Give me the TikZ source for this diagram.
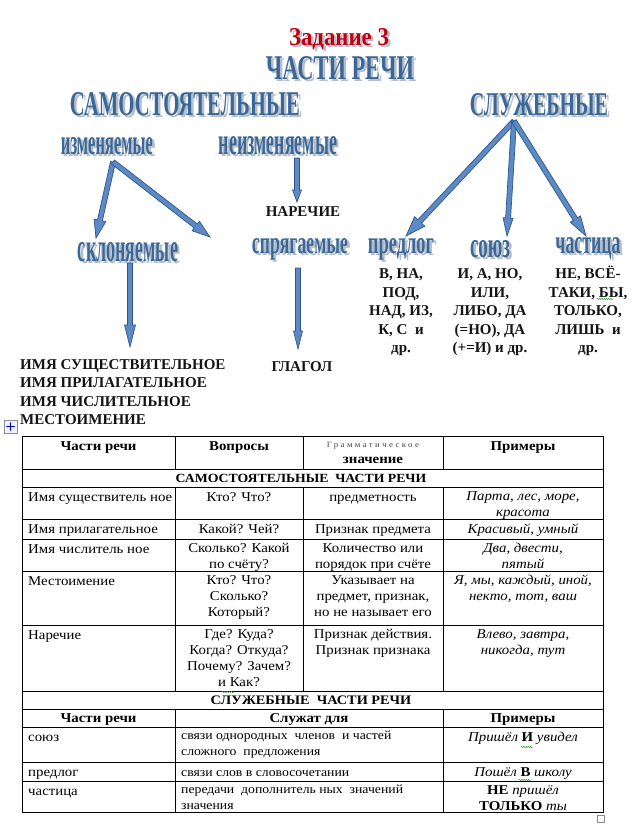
\documentclass[tikz,border=0pt]{standalone}
\usepackage{fontspec}
\usepackage{graphicx}
\setmainfont{Liberation Serif}
\newfontfamily\tabfont{Liberation Serif}[FakeStretch=1.1]
\usetikzlibrary{arrows.meta, positioning, calc, decorations.pathmorphing}
\definecolor{waBlue}{HTML}{3B6796}
\definecolor{waShade}{HTML}{B4BECC}
\definecolor{waRed}{HTML}{C00010}
\definecolor{arrFill}{HTML}{5B8AC4}
\definecolor{arrEdge}{HTML}{2F558C}
\definecolor{ink}{HTML}{141414}
\definecolor{squig}{HTML}{3C9A3C}
\tikzset{
  wa/.style={inner sep=0pt, anchor=base, text=waBlue, font=\bfseries},
  blockarr/.style={fill=arrFill, draw=arrEdge, line width=0.7pt, line join=miter},
  big/.style={inner sep=0pt, font=\bfseries\fontsize{15}{18.5}\selectfont, align=center, text=ink},
  cell/.style={inner sep=0pt, anchor=north, align=center, font=\tabfont\fontsize{13.5}{16}\selectfont,
               execute at begin node={\rule{0pt}{10pt}}},
  lcell/.style={cell, anchor=north west, align=left},
  ucell/.style={lcell, font=\tabfont\fontsize{12.5}{16}\selectfont},
  icell/.style={cell, font=\tabfont\itshape\fontsize{13.5}{16}\selectfont},
  hcell/.style={cell, font=\tabfont\bfseries\fontsize{13.5}{16}\selectfont},
  rowtitle/.style={cell, font=\tabfont\bfseries\fontsize{12.5}{16}\selectfont},
  grid/.style={line width=1pt, draw=black},
  squiggle/.style={draw=squig, line width=0.5pt, decorate, decoration={snake, amplitude=0.7pt, segment length=2.2pt}},
}
% wordart text with a soft shadow: [colour]{name}{base point}{width}{height}{text}
\newcommand\wordart[6][waBlue]{%
  \node[wa, text=#1] (#2) at (#3)
    {\rlap{\raisebox{-2.5pt}{\hspace*{2.5pt}\textcolor{waShade}{\resizebox{#4pt}{#5pt}{#6}}}}\resizebox{#4pt}{#5pt}{#6}};}
% block arrow: {from}{to}{head length}{head half width}
\newcommand\blockarrow[4]{%
  \coordinate (hb) at ($(#2)!#3pt!(#1)$);
  \filldraw[blockarr] ($(#1)!2.5pt!90:(#2)$) -- ($(hb)!2.5pt!90:(#2)$) -- ($(hb)!#4pt!90:(#2)$) -- (#2)
    -- ($(hb)!#4pt!-90:(#2)$) -- ($(hb)!2.5pt!-90:(#2)$) -- ($(#1)!2.5pt!-90:(#2)$) -- cycle;}

\begin{document}
\begin{tikzpicture}[x=1pt, y=-1pt]
\path[fill=white, use as bounding box] (0,0) rectangle (638,831);

% headings
\wordart[waRed]{task}{339,45}{100}{17}{Задание 3}
\wordart{parts}{340,79}{148}{23}{ЧАСТИ РЕЧИ}
\wordart{indep}{185,115}{230}{23}{САМОСТОЯТЕЛЬНЫЕ}
\wordart{func}{539,115}{138}{22}{СЛУЖЕБНЫЕ}
\wordart{izm}{107,154}{92}{17}{изменяемые}
\wordart{neizm}{278,154}{118}{18}{неизменяемые}
\wordart{skl}{128,261}{100}{19}{склоняемые}
\wordart{spr}{300,253}{96}{15}{спрягаемые}
\wordart{pred}{401,253}{66}{15}{предлог}
\wordart{soyuz}{490,257}{40}{17}{союз}
\wordart{chast}{588,253}{65}{16}{частица}

% words under the headings
\node[big] (nar) at (303,212) {НАРЕЧИЕ};
\node[big] (gl) at (302,367) {ГЛАГОЛ};
\node[big, align=left, anchor=north west] (names) at (20,359)
  {ИМЯ СУЩЕСТВИТЕЛЬНОЕ\\ИМЯ ПРИЛАГАТЕЛЬНОЕ\\ИМЯ ЧИСЛИТЕЛЬНОЕ\\МЕСТОИМЕНИЕ};
\node[big, anchor=north, below=13pt of pred.base] (pred-ex)
  {\vphantom{Ё}В, НА,\\ПОД,\\НАД, ИЗ,\\К, С \ и\\др.};
\node[big, anchor=north, below=9pt of soyuz.base] (soyuz-ex)
  {\vphantom{Ё}И, А, НО,\\ИЛИ,\\ЛИБО, ДА\\(=НО), ДА\\(+=И) и др.};
\node[big, anchor=north, below=13pt of chast.base] (chast-ex)
  {\vphantom{Ё}НЕ, ВСЁ-\\ТАКИ, БЫ,\\ТОЛЬКО,\\ЛИШЬ \ и\\др.};

% arrows
\coordinate (izm-out) at (113,162); \coordinate (skl-in) at (96,238); \coordinate (izm-end) at (210,237);
\coordinate (skl-out) at (130,263); \coordinate (names-in) at (130,347);
\coordinate (neizm-out) at (297,158); \coordinate (nar-in) at (297,202);
\coordinate (spr-out) at (298,268); \coordinate (gl-in) at (298,349);
\coordinate (func-out) at (514,121);
\coordinate (pred-in) at (406,236); \coordinate (soyuz-in) at (507,236); \coordinate (chast-in) at (586,236);
\blockarrow{izm-out}{skl-in}{18}{6}
\blockarrow{izm-out}{izm-end}{18}{6}
\blockarrow{skl-out}{names-in}{22}{5.5}
\blockarrow{neizm-out}{nar-in}{12}{4.5}
\blockarrow{spr-out}{gl-in}{18}{4.5}
\blockarrow{func-out}{pred-in}{20}{7}
\blockarrow{func-out}{soyuz-in}{18}{5}
\blockarrow{func-out}{chast-in}{20}{6}

% table handles
\draw[draw=black!45, fill=blue!6] (4,420) rectangle (17,433);
\draw[blue!70!black, line width=0.6pt, {Stealth[length=2pt]}-{Stealth[length=2pt]}] (6,426.5) -- (15,426.5);
\draw[blue!70!black, line width=0.6pt, {Stealth[length=2pt]}-{Stealth[length=2pt]}] (10.5,422) -- (10.5,431);
\draw[draw=black!45, fill=white] (597,815) rectangle (604,822);

% table grid
\draw[grid] (22,436) rectangle (603,812);
\foreach \y in {469,487,519,539,571,625,691,709,727,762,781} \draw[grid] (22,\y) -- (603,\y);
\foreach \x in {175,303,443} \draw[grid] (\x,436) -- (\x,469) (\x,487) -- (\x,691);
\foreach \x in {175,443} \draw[grid] (\x,709) -- (\x,812);

% table text
\node[hcell] (h-part) at (98.5,440) {Части речи};
\node[hcell] (h-q) at (239,440) {Вопросы};
\node[cell] (h-gram) at (373,442)
  {{\fontsize{8}{10}\selectfont\addfontfeatures{LetterSpace=30}\color{black!75}Грамматическое}\\\textbf{значение}};
\node[hcell] (h-ex) at (523,440) {Примеры};
\node[rowtitle] (indep-row) at (301,472) {САМОСТОЯТЕЛЬНЫЕ \ ЧАСТИ РЕЧИ};

\node[lcell] (n1) at (28,491) {Имя существитель ное};
\node[cell] (q1) at (239,491) {Кто? Что?};
\node[cell] (g1) at (373,491) {предметность};
\node[icell] (e1) at (523,491) {Парта, лес, море,\\красота};

\node[lcell] (n2) at (28,523) {Имя прилагательное};
\node[cell] (q2) at (239,523) {Какой? Чей?};
\node[cell] (g2) at (373,523) {Признак предмета};
\node[icell] (e2) at (523,523) {Красивый, умный};

\node[lcell] (n3) at (28,543) {Имя числитель ное};
\node[cell] (q3) at (239,543) {Сколько? Какой\\по счёту?};
\node[cell] (g3) at (373,543) {Количество или\\порядок при счёте};
\node[icell] (e3) at (523,543) {Два, двести,\\пятый};

\node[lcell] (n4) at (28,575) {Местоимение};
\node[cell] (q4) at (239,575) {Кто? Что?\\Сколько?\\Который?};
\node[cell] (g4) at (373,575) {Указывает на\\предмет, признак,\\но не называет его};
\node[icell] (e4) at (523,575) {Я, мы, каждый, иной,\\некто, тот, ваш};

\node[lcell] (n5) at (28,629) {Наречие};
\node[cell] (q5) at (239,629) {Где? Куда?\\Когда? Откуда?\\Почему? Зачем?\\и Как?};
\node[cell] (g5) at (373,629) {Признак действия.\\Признак признака};
\node[icell] (e5) at (523,629) {Влево, завтра,\\никогда, тут};

\node[rowtitle, font=\tabfont\bfseries\fontsize{13}{16}\selectfont] (func-row) at (311,694) {СЛУЖЕБНЫЕ \ ЧАСТИ РЕЧИ};
\node[hcell] (h2-part) at (98.5,712) {Части речи};
\node[hcell] (h2-use) at (309,712) {Служат для};
\node[hcell] (h2-ex) at (523,712) {Примеры};

\node[lcell] (s1) at (28,731) {союз};
\node[ucell] (u1) at (181,731) {связи однородных \ членов \ и частей\\сложного \ предложения};
\node[icell] (x1) at (523,731) {Пришёл \textbf{\upshape И} увидел};

\node[lcell] (s2) at (28,766) {предлог};
\node[ucell] (u2) at (181,766) {связи слов в словосочетании};
\node[icell] (x2) at (523,766) {Пошёл \textbf{\upshape В} школу};

\node[lcell] (s3) at (28,785) {частица};
\node[ucell] (u3) at (181,785) {передачи \ дополнитель ных \ значений\\значения};
\node[cell] (x3) at (523,785) {\textbf{НЕ} \textit{пришёл}\\\textbf{ТОЛЬКО} \textit{ты}};

% spelling marks
\draw[squiggle] (521,747) -- (533,747);
\draw[squiggle] (519,780) -- (531,780);
\draw[squiggle] (597,299) -- (613,299);
\draw[squiggle] (222,692) -- (234,692);
\end{tikzpicture}
\end{document}
